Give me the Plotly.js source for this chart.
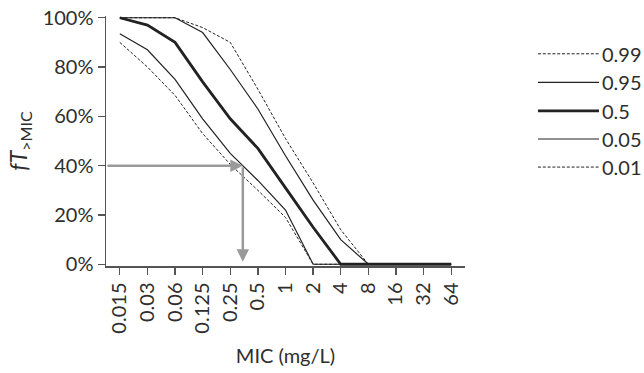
<!DOCTYPE html>
<html><head><meta charset="utf-8">
<script src="https://cdn.plot.ly/plotly-3.0.1.min.js"></script>
<style>html,body{margin:0;padding:0;background:#fff}#chart{width:644px;height:373px}</style>
</head><body><div id="chart"></div>
<script>
// Data
const micLabels = ['0.015','0.03','0.06','0.125','0.25','0.5','1','2','4','8','16','32','64'];
const p99 = [100,100,100,96,90,71,51,33,14,0,0,0,0];
const p95 = [100,100,100,94,79,63,44,26,10,0,0,0,0];
const p50 = [100,97,90,74,59,47,31,15,0,0,0,0,0];
const p05 = [93.5,87,75,59,45,34,22,0,0,0,0,0,0];
const p01 = [90,80,68.5,53,40.5,30,19,0,0,0,0,0,0];
const seriesNames = ['0.99','0.95','0.5','0.05','0.01'];
const targetFT = 40;

const seriesValues = [p99,p95,p50,p05,p01];
const ink = '#222';
const styles = [
  {width:1, dash:'3px,1.8px'},
  {width:1.2, dash:'solid'},
  {width:2.8, dash:'solid'},
  {width:1.2, dash:'solid'},
  {width:1, dash:'3px,1.8px'}
];
const xs = micLabels.map((_,i)=>i);
const traces = seriesValues.map((v,k)=>({
  x: xs, y: v, name: seriesNames[k], type:'scatter', mode:'lines',
  line:{color:ink, width:styles[k].width, dash:styles[k].dash},
  showlegend:false, hoverinfo:'skip'
}));

// crossing of the 0.05 curve with target
let cross = 0;
for (let i=0;i<p05.length-1;i++){
  if (p05[i]>=targetFT && p05[i+1]<targetFT){ cross = i + (p05[i]-targetFT)/(p05[i]-p05[i+1]); break; }
}

const W=644,H=373, L=106, R=644-465, T=16.3, B=373-265.7;
const pw = W-L-R, ph = H-T-B;
const px2x = px => (px-L)/pw;
const py2y = py => (H-B-py)/ph;

const font = 'Lato, "Open Sans", sans-serif';
const txt = '#2e2e2e';
const shapes = [];
const annotations = [];
const legendRows = [54, 82.5, 111, 139, 167];
seriesNames.forEach((n,k)=>{
  shapes.push({type:'line', xref:'paper', yref:'paper',
    x0:px2x(538), x1:px2x(599), y0:py2y(legendRows[k]), y1:py2y(legendRows[k]),
    line:{color:ink, width:styles[k].width, dash:styles[k].dash}});
  annotations.push({xref:'paper', yref:'paper', x:px2x(600), y:py2y(legendRows[k]),
    text:n, showarrow:false, xanchor:'left', yanchor:'middle',
    font:{family:font, size:20, color:txt}});
});
annotations.push({x:cross, y:targetFT, ax:-0.5, ay:targetFT, xref:'x', yref:'y', axref:'x', ayref:'y',
  text:'', showarrow:true, arrowhead:2, arrowsize:1, arrowwidth:2.5, arrowcolor:'#9a9a9a', standoff:0});
annotations.push({x:cross, y:1, ax:cross, ay:targetFT, xref:'x', yref:'y', axref:'x', ayref:'y',
  text:'', showarrow:true, arrowhead:2, arrowsize:1, arrowwidth:2.5, arrowcolor:'#9a9a9a', standoff:0});

const layout = {
  width:W, height:H,
  margin:{l:L, r:R, t:T, b:B, pad:0},
  paper_bgcolor:'#fff', plot_bgcolor:'#fff',
  font:{family:font, size:20, color:txt},
  xaxis:{
    range:[-0.5,12.5], tickmode:'array', tickvals:xs, ticktext:micLabels,
    tickangle:-90, ticks:'outside', ticklen:7, tickwidth:1.3, tickcolor:'#555',
    showline:true, linecolor:'#555', linewidth:1.5, showgrid:false, zeroline:false,
    tickfont:{family:font, size:20, color:txt},
    title:{text:'MIC (mg/L)', font:{family:font, size:20, color:txt}, standoff:16}
  },
  yaxis:{
    range:[-0.7,100.7], tickmode:'array', tickvals:[0,20,40,60,80,100],
    ticktext:['0%','20%','40%','60%','80%','100%'],
    ticks:'outside', ticklen:7, tickwidth:1.3, tickcolor:'#555',
    showline:true, linecolor:'#555', linewidth:1.5, showgrid:false, zeroline:false,
    tickfont:{family:font, size:20, color:txt},
    title:{text:'<i>fT</i><sub>&gt;MIC</sub>', font:{family:font, size:23, color:txt}, standoff:8}
  },
  shapes:shapes, annotations:annotations
};
Plotly.newPlot('chart', traces, layout, {staticPlot:true, displayModeBar:false});
</script>
</body></html>
